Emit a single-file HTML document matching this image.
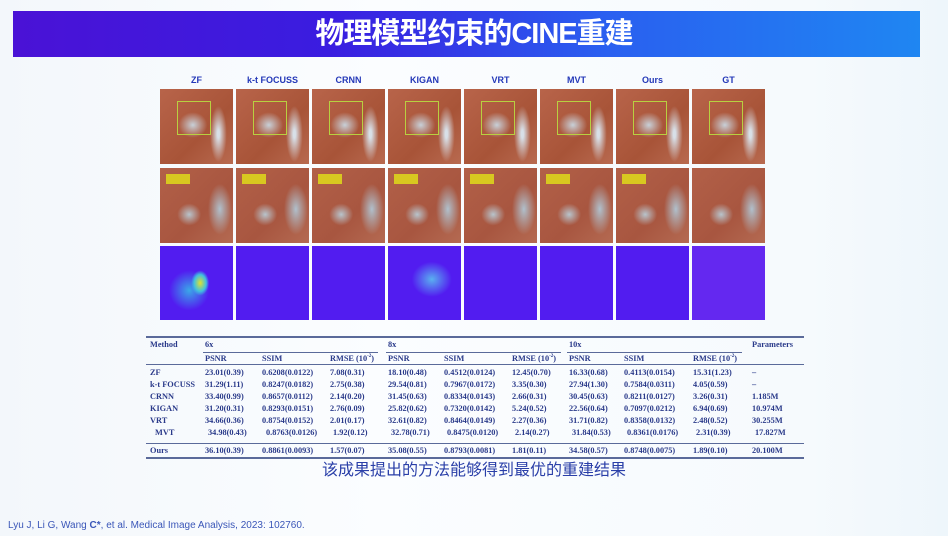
<!DOCTYPE html>
<html><head><meta charset="utf-8"><style>
body{margin:0;width:948px;height:536px;overflow:hidden;background:linear-gradient(90deg,#f3f7fb,#fbfdff 40%,#f6fafd 85%,#eef6fb);position:relative;font-family:"Liberation Sans","Noto Sans CJK SC",sans-serif}
.bar{position:absolute;left:13px;top:11px;width:907px;height:46px;background:linear-gradient(90deg,#4a12d6,#3a1de0 35%,#2a5ff0 65%,#1f86f2);}
.title{position:absolute;left:0;top:11px;width:948px;text-align:center;color:#fff;font-weight:bold;font-size:29px;line-height:46px;letter-spacing:-1px;font-family:"Liberation Sans","Noto Sans CJK SC",sans-serif}
.lab{position:absolute;top:75px;width:73px;text-align:center;font-size:9px;font-weight:bold;color:#2438b8}
.c{position:absolute;width:73px;height:75px}
.r1{top:89px;background:radial-gradient(ellipse 18px 16px at 45% 48%,#c8d0d8,transparent 80%),radial-gradient(ellipse 12px 40px at 80% 60%,#d8e0e8 10%,transparent 70%),linear-gradient(135deg,#b8644a,#a85438 60%,#b86a50)}
.r1 i{position:absolute;left:17px;top:12px;width:32px;height:32px;border:1.5px solid #b8d040}
.r2{top:168px;background:radial-gradient(ellipse 14px 13px at 40% 62%,#b8c4cc,transparent 85%),radial-gradient(ellipse 14px 30px at 82% 55%,#b0c0cc,transparent 85%),linear-gradient(135deg,#b26048,#a85640 60%,#b46a52)}
.r2 i{position:absolute;left:6px;top:6px;width:24px;height:10px;background:#d8c820}
.r3{top:246px;height:74px;background:#521cf0}
.zf3{background:radial-gradient(ellipse 10px 14px at 55% 50%,#e0e030,#40c0e0 60%,transparent 90%),radial-gradient(ellipse 25px 25px at 40% 60%,#3aa8e8,transparent 80%),#521cf0}
.kg3{background:radial-gradient(ellipse 25px 22px at 60% 45%,#5ab0f0,transparent 80%),#521cf0}
.gt3{background:#6428f0}
.tb{position:absolute;font-family:"Liberation Serif",serif;font-weight:bold;font-size:8.3px;color:#2a3a8a;white-space:nowrap}
.ln{position:absolute;height:1px;background:#5a6a9a}
.sub{position:absolute;left:0;width:948px;top:456px;text-align:center;font-size:16px;color:#2a3fa8}
.cite{position:absolute;left:8px;top:520px;font-size:10px;color:#3a56b8}
</style></head><body>
<div class="bar"></div><div class="title">物理模型约束的CINE重建</div>

<div class="lab" style="left:160px">ZF</div><div class="lab" style="left:236px">k-t FOCUSS</div><div class="lab" style="left:312px">CRNN</div><div class="lab" style="left:388px">KIGAN</div><div class="lab" style="left:464px">VRT</div><div class="lab" style="left:540px">MVT</div><div class="lab" style="left:616px">Ours</div><div class="lab" style="left:692px">GT</div>

<div class="c r1" style="left:160px"><i></i></div><div class="c r1" style="left:236px"><i></i></div><div class="c r1" style="left:312px"><i></i></div><div class="c r1" style="left:388px"><i></i></div><div class="c r1" style="left:464px"><i></i></div><div class="c r1" style="left:540px"><i></i></div><div class="c r1" style="left:616px"><i></i></div><div class="c r1" style="left:692px"><i></i></div>

<div class="c r2" style="left:160px"><i></i></div><div class="c r2" style="left:236px"><i></i></div><div class="c r2" style="left:312px"><i></i></div><div class="c r2" style="left:388px"><i></i></div><div class="c r2" style="left:464px"><i></i></div><div class="c r2" style="left:540px"><i></i></div><div class="c r2" style="left:616px"><i></i></div><div class="c r2" style="left:692px"></div>

<div class="c r3 zf3" style="left:160px"></div><div class="c r3" style="left:236px"></div><div class="c r3" style="left:312px"></div><div class="c r3 kg3" style="left:388px"></div><div class="c r3" style="left:464px"></div><div class="c r3" style="left:540px"></div><div class="c r3" style="left:616px"></div><div class="c r3 gt3" style="left:692px"></div>

<div class="ln" style="left:146px;width:658px;top:336px;height:2px"></div>
<div class="ln" style="left:203px;width:175px;top:352px"></div>
<div class="ln" style="left:386px;width:175px;top:352px"></div>
<div class="ln" style="left:567px;width:175px;top:352px"></div>
<div class="ln" style="left:146px;width:658px;top:364px"></div>
<div class="ln" style="left:146px;width:658px;top:443px"></div>
<div class="ln" style="left:146px;width:658px;top:457px;height:2px"></div>

<div class="tb" style="left:150px;top:340px">Method</div><div class="tb" style="left:205px;top:340px">6x</div><div class="tb" style="left:388px;top:340px">8x</div><div class="tb" style="left:569px;top:340px">10x</div><div class="tb" style="left:752px;top:340px">Parameters</div>
<div class="tb" style="left:205px;top:354px">PSNR</div><div class="tb" style="left:262px;top:354px">SSIM</div><div class="tb" style="left:330px;top:354px">RMSE (10<sup style="font-size:5px">-2</sup>)</div>
<div class="tb" style="left:388px;top:354px">PSNR</div><div class="tb" style="left:444px;top:354px">SSIM</div><div class="tb" style="left:512px;top:354px">RMSE (10<sup style="font-size:5px">-2</sup>)</div>
<div class="tb" style="left:569px;top:354px">PSNR</div><div class="tb" style="left:624px;top:354px">SSIM</div><div class="tb" style="left:693px;top:354px">RMSE (10<sup style="font-size:5px">-2</sup>)</div>

<div class="tb" style="left:150px;top:368px">ZF</div><div class="tb" style="left:205px;top:368px">23.01(0.39)</div><div class="tb" style="left:262px;top:368px">0.6208(0.0122)</div><div class="tb" style="left:330px;top:368px">7.08(0.31)</div><div class="tb" style="left:388px;top:368px">18.10(0.48)</div><div class="tb" style="left:444px;top:368px">0.4512(0.0124)</div><div class="tb" style="left:512px;top:368px">12.45(0.70)</div><div class="tb" style="left:569px;top:368px">16.33(0.68)</div><div class="tb" style="left:624px;top:368px">0.4113(0.0154)</div><div class="tb" style="left:693px;top:368px">15.31(1.23)</div><div class="tb" style="left:752px;top:368px">–</div>

<div class="tb" style="left:150px;top:380px">k-t FOCUSS</div><div class="tb" style="left:205px;top:380px">31.29(1.11)</div><div class="tb" style="left:262px;top:380px">0.8247(0.0182)</div><div class="tb" style="left:330px;top:380px">2.75(0.38)</div><div class="tb" style="left:388px;top:380px">29.54(0.81)</div><div class="tb" style="left:444px;top:380px">0.7967(0.0172)</div><div class="tb" style="left:512px;top:380px">3.35(0.30)</div><div class="tb" style="left:569px;top:380px">27.94(1.30)</div><div class="tb" style="left:624px;top:380px">0.7584(0.0311)</div><div class="tb" style="left:693px;top:380px">4.05(0.59)</div><div class="tb" style="left:752px;top:380px">–</div>

<div class="tb" style="left:150px;top:392px">CRNN</div><div class="tb" style="left:205px;top:392px">33.40(0.99)</div><div class="tb" style="left:262px;top:392px">0.8657(0.0112)</div><div class="tb" style="left:330px;top:392px">2.14(0.20)</div><div class="tb" style="left:388px;top:392px">31.45(0.63)</div><div class="tb" style="left:444px;top:392px">0.8334(0.0143)</div><div class="tb" style="left:512px;top:392px">2.66(0.31)</div><div class="tb" style="left:569px;top:392px">30.45(0.63)</div><div class="tb" style="left:624px;top:392px">0.8211(0.0127)</div><div class="tb" style="left:693px;top:392px">3.26(0.31)</div><div class="tb" style="left:752px;top:392px">1.185M</div>

<div class="tb" style="left:150px;top:404px">KIGAN</div><div class="tb" style="left:205px;top:404px">31.20(0.31)</div><div class="tb" style="left:262px;top:404px">0.8293(0.0151)</div><div class="tb" style="left:330px;top:404px">2.76(0.09)</div><div class="tb" style="left:388px;top:404px">25.82(0.62)</div><div class="tb" style="left:444px;top:404px">0.7320(0.0142)</div><div class="tb" style="left:512px;top:404px">5.24(0.52)</div><div class="tb" style="left:569px;top:404px">22.56(0.64)</div><div class="tb" style="left:624px;top:404px">0.7097(0.0212)</div><div class="tb" style="left:693px;top:404px">6.94(0.69)</div><div class="tb" style="left:752px;top:404px">10.974M</div>

<div class="tb" style="left:150px;top:416px">VRT</div><div class="tb" style="left:205px;top:416px">34.66(0.36)</div><div class="tb" style="left:262px;top:416px">0.8754(0.0152)</div><div class="tb" style="left:330px;top:416px">2.01(0.17)</div><div class="tb" style="left:388px;top:416px">32.61(0.82)</div><div class="tb" style="left:444px;top:416px">0.8464(0.0149)</div><div class="tb" style="left:512px;top:416px">2.27(0.36)</div><div class="tb" style="left:569px;top:416px">31.71(0.82)</div><div class="tb" style="left:624px;top:416px">0.8358(0.0132)</div><div class="tb" style="left:693px;top:416px">2.48(0.52)</div><div class="tb" style="left:752px;top:416px">30.255M</div>

<div class="tb" style="left:155px;top:428px">MVT</div><div class="tb" style="left:208px;top:428px">34.98(0.43)</div><div class="tb" style="left:266px;top:428px">0.8763(0.0126)</div><div class="tb" style="left:333px;top:428px">1.92(0.12)</div><div class="tb" style="left:391px;top:428px">32.78(0.71)</div><div class="tb" style="left:447px;top:428px">0.8475(0.0120)</div><div class="tb" style="left:515px;top:428px">2.14(0.27)</div><div class="tb" style="left:572px;top:428px">31.84(0.53)</div><div class="tb" style="left:627px;top:428px">0.8361(0.0176)</div><div class="tb" style="left:696px;top:428px">2.31(0.39)</div><div class="tb" style="left:755px;top:428px">17.827M</div>

<div class="tb" style="left:150px;top:446px">Ours</div><div class="tb" style="left:205px;top:446px">36.10(0.39)</div><div class="tb" style="left:262px;top:446px">0.8861(0.0093)</div><div class="tb" style="left:330px;top:446px">1.57(0.07)</div><div class="tb" style="left:388px;top:446px">35.08(0.55)</div><div class="tb" style="left:444px;top:446px">0.8793(0.0081)</div><div class="tb" style="left:512px;top:446px">1.81(0.11)</div><div class="tb" style="left:569px;top:446px">34.58(0.57)</div><div class="tb" style="left:624px;top:446px">0.8748(0.0075)</div><div class="tb" style="left:693px;top:446px">1.89(0.10)</div><div class="tb" style="left:752px;top:446px">20.100M</div>

<div class="sub">该成果提出的方法能够得到最优的重建结果</div>
<div class="cite">Lyu J, Li G, Wang <b>C*</b>, et al. Medical Image Analysis, 2023: 102760.</div>
</body></html>
